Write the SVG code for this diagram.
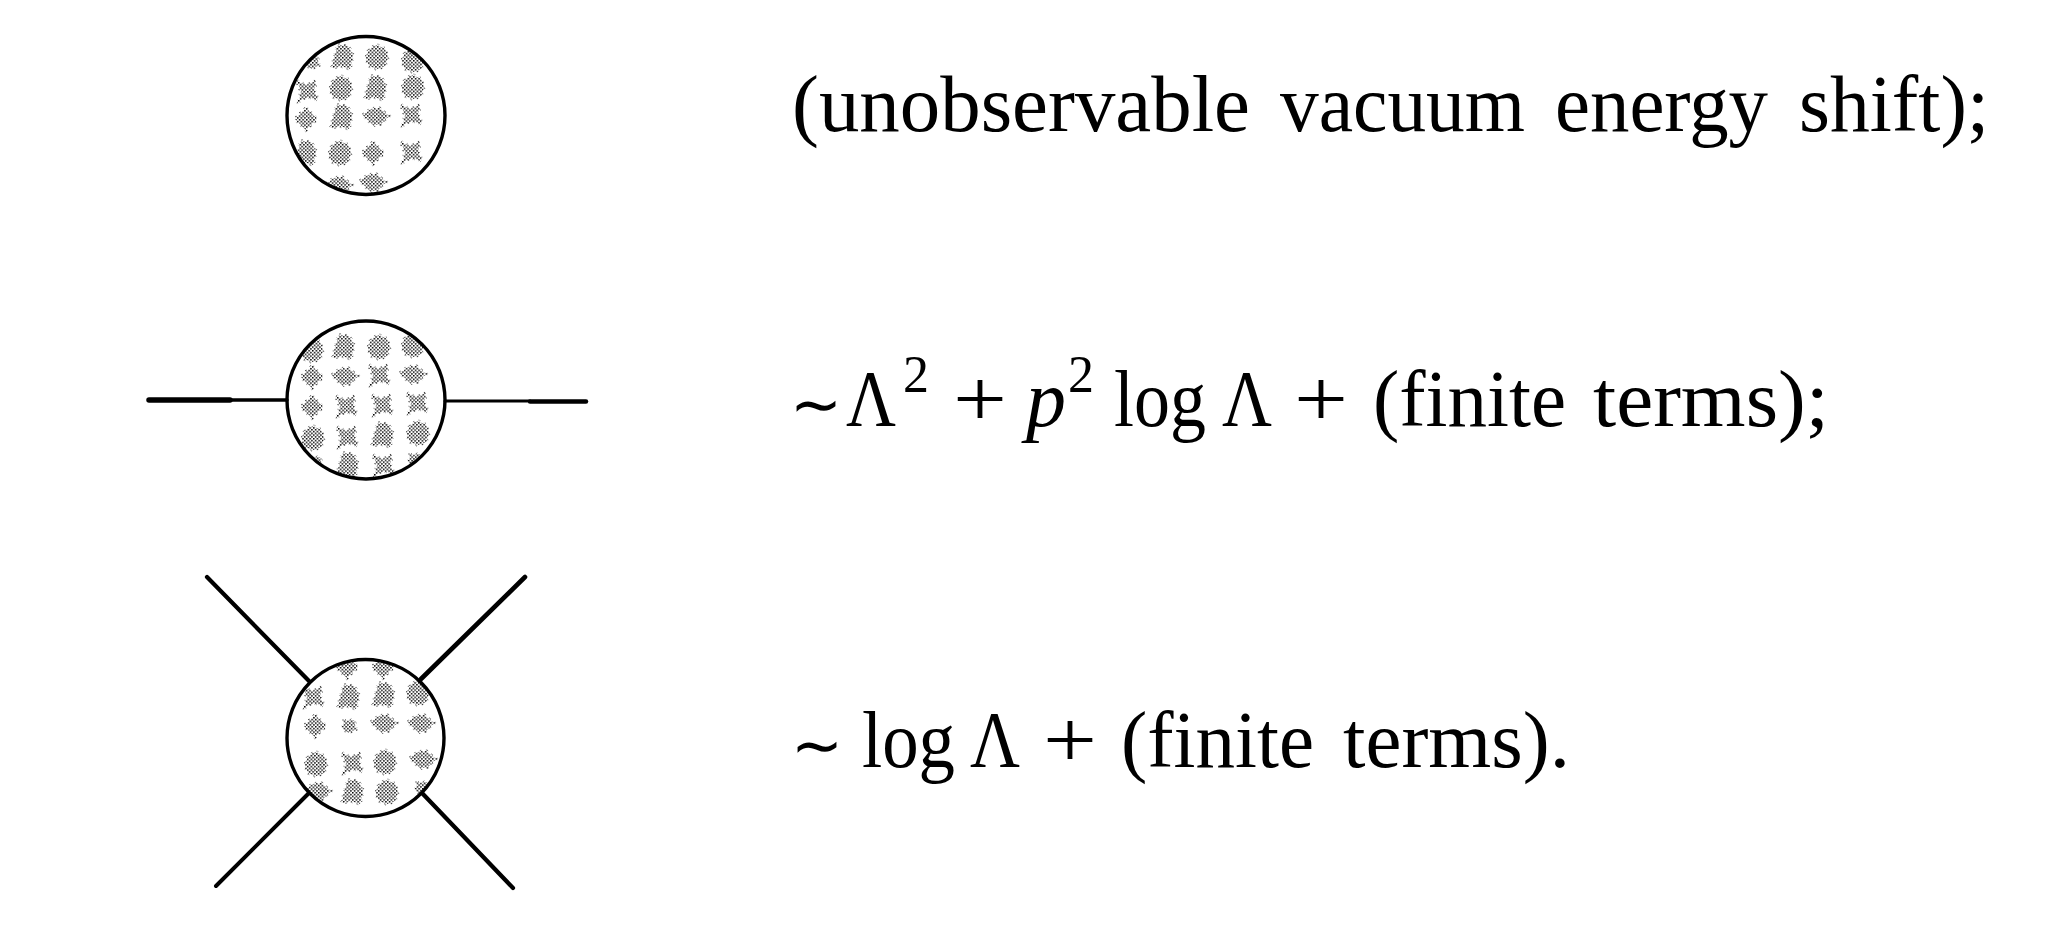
<svg xmlns="http://www.w3.org/2000/svg" width="2069" height="930" viewBox="0 0 2069 930">
<style>
.t{font-family:"Liberation Serif","Times New Roman",serif;font-size:80px;fill:#000}
.s{font-size:52px}
.i{font-style:italic}
.m{font-family:"DejaVu Sans",sans-serif;font-size:64px}
.ring{fill:none;stroke:#000;stroke-width:3.4}
.ln{stroke:#000;fill:none;stroke-linecap:round}
.b{fill:url(#st);stroke:url(#st);stroke-width:3.5;stroke-dasharray:2 4}
</style>
<defs>
<pattern id="st" width="3.6" height="3.6" patternUnits="userSpaceOnUse">
<rect width="3.6" height="3.6" fill="#fff"/>
<rect x="0" y="0" width="1.5" height="1.5" fill="#000"/>
<rect x="1.8" y="1.8" width="1.5" height="1.5" fill="#000"/>
</pattern>
<path id="a" d="M0-12 8-8 11 0 8 9 0 12-8 9-11 1-8-8Z"/>
<path id="d" d="M0-11 11 0 0 11-11 0Z"/>
<path id="w" d="M-13-2-5-8 3-9 13-1 5 7-3 8Z"/>
<path id="x" d="M-10-10-1-6 9-10 7-1 11 9 1 6-8 10-6 0Z"/>
<path id="k" d="M-4-12 6-11 11-2 8 12-1 9-10 11-8 1Z"/>
<path id="n" d="M-5-5 5-6 7 3 0 7-6 3Z"/>
<clipPath id="c1"><circle cx="366" cy="115.5" r="79"/></clipPath>
<clipPath id="c2"><circle cx="366" cy="400" r="79"/></clipPath>
<clipPath id="c3"><circle cx="365.5" cy="738" r="78.5"/></clipPath>
</defs>
<g id="connectors">
<line class="ln" x1="149" y1="400" x2="230" y2="400" stroke-width="5.5"/>
<line class="ln" x1="230" y1="400" x2="287" y2="400" stroke-width="3.5"/>
<line class="ln" x1="445" y1="401" x2="530" y2="401" stroke-width="3"/>
<line class="ln" x1="530" y1="401.5" x2="586" y2="401.5" stroke-width="4.5"/>
<line class="ln" x1="207" y1="577" x2="309" y2="681" stroke-width="4.2"/>
<line class="ln" x1="525" y1="577" x2="421" y2="679" stroke-width="4.6"/>
<line class="ln" x1="216" y1="886" x2="309" y2="793" stroke-width="4"/>
<line class="ln" x1="513" y1="888" x2="422" y2="793" stroke-width="4.2"/>
</g>
<g id="node-vacuum">
<g clip-path="url(#c1)">
<use href="#k" class="b" x="342" y="57"/><use href="#a" class="b" x="377" y="57"/><use href="#a" class="b" x="413" y="60"/><use href="#n" class="b" x="312" y="62"/>
<use href="#x" class="b" x="307" y="91"/><use href="#a" class="b" x="341" y="88"/><use href="#k" class="b" x="375" y="88"/><use href="#a" class="b" x="413" y="87"/>
<use href="#d" class="b" x="306" y="119"/><use href="#k" class="b" x="341" y="117"/><use href="#w" class="b" x="376" y="117"/><use href="#x" class="b" x="411" y="115"/>
<use href="#k" class="b" x="305" y="153"/><use href="#a" class="b" x="340" y="153"/><use href="#d" class="b" x="373" y="153"/><use href="#x" class="b" x="411" y="152"/>
<use href="#w" class="b" x="339" y="186"/><use href="#w" class="b" x="373" y="183"/>
</g>
<circle class="ring" cx="366" cy="115.5" r="79"/>
</g>
<g id="node-propagator">
<g clip-path="url(#c2)">
<use href="#a" class="b" x="312" y="350"/><use href="#k" class="b" x="343" y="347"/><use href="#a" class="b" x="379" y="347"/><use href="#a" class="b" x="413" y="345"/>
<use href="#d" class="b" x="312" y="377"/><use href="#w" class="b" x="345" y="377"/><use href="#x" class="b" x="379" y="375"/><use href="#w" class="b" x="413" y="375"/>
<use href="#d" class="b" x="312" y="407"/><use href="#x" class="b" x="346" y="406"/><use href="#x" class="b" x="382" y="405"/><use href="#x" class="b" x="417" y="403"/>
<use href="#a" class="b" x="313" y="438"/><use href="#x" class="b" x="347" y="437"/><use href="#k" class="b" x="382" y="435"/><use href="#a" class="b" x="418" y="433"/>
<use href="#k" class="b" x="347" y="465"/><use href="#x" class="b" x="383" y="465"/><use href="#n" class="b" x="315" y="463"/><use href="#n" class="b" x="415" y="460"/>
</g>
<circle class="ring" cx="366" cy="400" r="79"/>
</g>
<g id="node-vertex">
<g clip-path="url(#c3)">
<use href="#d" class="b" x="347" y="667"/><use href="#d" class="b" x="383" y="667"/>
<use href="#x" class="b" x="313" y="697"/><use href="#k" class="b" x="348" y="697"/><use href="#k" class="b" x="383" y="695"/><use href="#a" class="b" x="418" y="693"/>
<use href="#d" class="b" x="315" y="726"/><use href="#n" class="b" x="349" y="726"/><use href="#w" class="b" x="384" y="724"/><use href="#w" class="b" x="421" y="724"/>
<use href="#a" class="b" x="316" y="764"/><use href="#x" class="b" x="352" y="763"/><use href="#a" class="b" x="385" y="762"/><use href="#w" class="b" x="423" y="760"/>
<use href="#w" class="b" x="318" y="792"/><use href="#k" class="b" x="352" y="792"/><use href="#a" class="b" x="387" y="792"/><use href="#n" class="b" x="422" y="788"/>
</g>
<circle class="ring" cx="365.5" cy="738" r="78.5"/>
</g>
<g id="label-vacuum">
<text class="t" x="792" y="131" textLength="458" lengthAdjust="spacingAndGlyphs">(unobservable</text>
<text class="t" x="1280" y="131" textLength="245" lengthAdjust="spacingAndGlyphs">vacuum</text>
<text class="t" x="1555" y="131" textLength="213" lengthAdjust="spacingAndGlyphs">energy</text>
<text class="t" x="1799" y="131" textLength="190" lengthAdjust="spacingAndGlyphs">shift);</text>
</g>
<g id="label-propagator">
<text class="t m" x="790" y="426" textLength="52" lengthAdjust="spacingAndGlyphs">∼</text>
<text class="t" x="846" y="426" textLength="50" lengthAdjust="spacingAndGlyphs">Λ</text>
<text class="t s" x="903" y="392">2</text>
<text class="t" x="953" y="426" textLength="54" lengthAdjust="spacingAndGlyphs">+</text>
<text class="t i" x="1026" y="426">p</text>
<text class="t s" x="1068" y="392">2</text>
<text class="t" x="1114" y="426" textLength="92" lengthAdjust="spacingAndGlyphs">log</text>
<text class="t" x="1222" y="426" textLength="50" lengthAdjust="spacingAndGlyphs">Λ</text>
<text class="t" x="1294" y="426" textLength="54" lengthAdjust="spacingAndGlyphs">+</text>
<text class="t" x="1373" y="426" textLength="193" lengthAdjust="spacingAndGlyphs">(finite</text>
<text class="t" x="1593" y="426" textLength="236" lengthAdjust="spacingAndGlyphs">terms);</text>
</g>
<g id="label-vertex">
<text class="t m" x="791" y="767" textLength="52" lengthAdjust="spacingAndGlyphs">∼</text>
<text class="t" x="862" y="767" textLength="93" lengthAdjust="spacingAndGlyphs">log</text>
<text class="t" x="970" y="767" textLength="50" lengthAdjust="spacingAndGlyphs">Λ</text>
<text class="t" x="1043" y="767" textLength="54" lengthAdjust="spacingAndGlyphs">+</text>
<text class="t" x="1121" y="767" textLength="193" lengthAdjust="spacingAndGlyphs">(finite</text>
<text class="t" x="1343" y="767" textLength="227" lengthAdjust="spacingAndGlyphs">terms).</text>
</g>
</svg>
